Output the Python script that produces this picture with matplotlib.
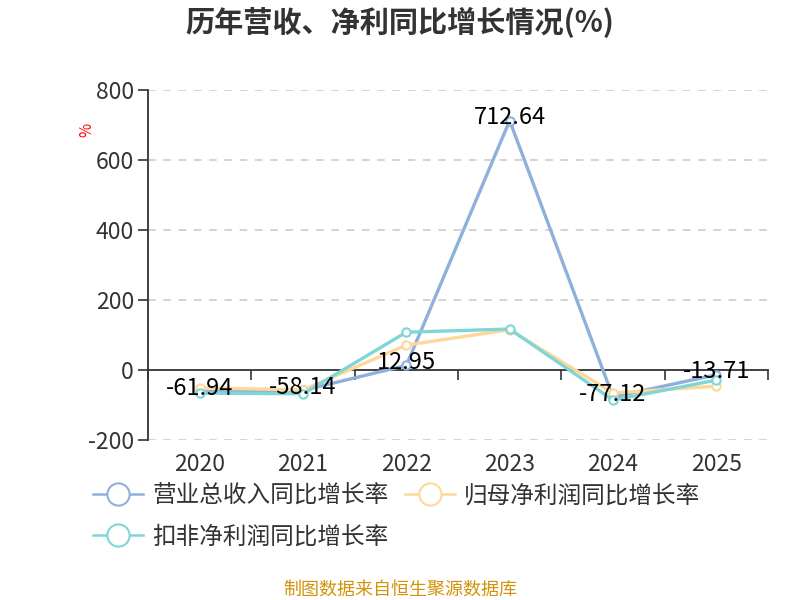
import matplotlib
matplotlib.use('Agg')
import matplotlib.pyplot as plt
import matplotlib.transforms as mtransforms
from matplotlib.lines import Line2D

plt.rcParams['font.family'] = ['Noto Sans CJK SC', 'DejaVu Sans']
plt.rcParams['axes.unicode_minus'] = False

years = ['2020', '2021', '2022', '2023', '2024', '2025']
revenue = [-61.94, -58.14, 12.95, 712.64, -77.12, -13.71]
net_profit = [-51, -57, 71, 115, -66, -46]
deducted = [-66, -68, 108, 117, -86, -29]
names = ['营业总收入同比增长率', '归母净利润同比增长率', '扣非净利润同比增长率']
colors = ['#8eb0dc', '#fdd89a', '#80d6d6']

fig = plt.figure(figsize=(8, 6), dpi=100)
ax = fig.add_axes([0.185, 0.2667, 0.775, 0.5833])

x = list(range(len(years)))
for vals, c, z in zip([revenue, net_profit, deducted], colors, [3, 4, 5]):
    ax.plot(x, vals, color=c, lw=2.4, marker='o', markersize=6,
            markerfacecolor='white', markeredgecolor=c, markeredgewidth=1.5, zorder=z)

# data labels for revenue
for xi, v in zip(x, revenue):
    ax.text(xi, v + 8, f'{v:.2f}', ha='center', va='center', fontsize=17,
            color='black', zorder=10)

ax.set_xlim(-0.5, len(years) - 0.5)
ax.set_ylim(-200, 800)
ax.set_yticks([-200, 0, 200, 400, 600, 800])
ax.tick_params(axis='y', labelsize=16.5, labelcolor='#333333', color='#333333',
               length=7, width=1.2, pad=3)
ax.set_xticks([i - 0.5 for i in range(len(years) + 1)])
ax.set_xticklabels([])
ax.tick_params(axis='x', direction='out', length=7, width=1.2, color='#333333')

# category labels at the bottom
trans = mtransforms.blended_transform_factory(ax.transData, ax.transAxes)
for xi, yr in zip(x, years):
    ax.text(xi, -0.07, yr, transform=trans, ha='center', va='center',
            fontsize=16.5, color='#333333')

for yv in [-200, 200, 400, 600, 800]:
    ax.axhline(yv, color='#c8c8c8', lw=1.1, ls=(0, (5, 5)), zorder=0)

ax.spines['top'].set_visible(False)
ax.spines['right'].set_visible(False)
ax.spines['bottom'].set_position(('data', 0))
ax.spines['bottom'].set_color('#333333')
ax.spines['bottom'].set_linewidth(1.3)
ax.spines['left'].set_color('#333333')
ax.spines['left'].set_linewidth(1.3)

fig.text(0.108, 0.783, '%', color='red', fontsize=11, rotation=90,
         ha='center', va='center')

fig.text(0.5, 0.962, '历年营收、净利同比增长情况(%)', ha='center', va='center',
         fontsize=21, fontweight='bold', color='#333333')

handles = [Line2D([0], [0], color=c, lw=1.8, marker='o', markersize=16,
                  markerfacecolor='white', markeredgecolor=c, markeredgewidth=1.5)
           for c in colors]
order = [0, 2, 1]
fig.legend([handles[i] for i in order], [names[i] for i in order],
           loc='upper left', bbox_to_anchor=(0.105, 0.208),
           ncol=2, frameon=False, fontsize=17, handlelength=2.1,
           handletextpad=0.4, columnspacing=0.7, labelspacing=0.75,
           labelcolor='#333333', borderaxespad=0)

fig.text(0.5, 0.017, '制图数据来自恒生聚源数据库', ha='center', va='center',
         fontsize=13, color='#d4920a')

fig.savefig('out.png', dpi=100)
